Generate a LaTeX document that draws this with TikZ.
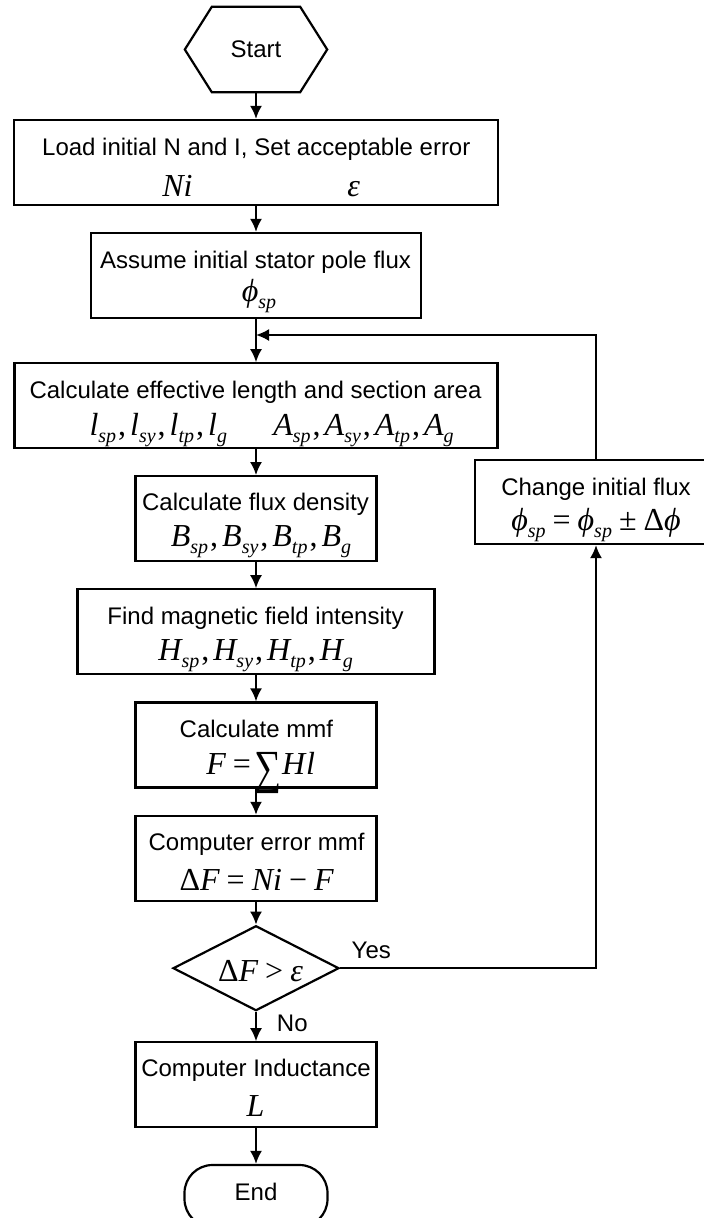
\documentclass[tikz,border=0pt]{standalone}
\usepackage{fontspec}
\usepackage{graphicx}
\setmainfont{Liberation Sans}
\newfontfamily\tms{Liberation Serif}
\usetikzlibrary{arrows.meta,shapes.geometric}

% italic subscript, lowered below the baseline
\newcommand\sbs[1]{\raisebox{-7pt}{\fontsize{20}{20}\selectfont #1}}
% upright relation sign with spacing
\newcommand\rel[1]{\hspace{7pt}{\upshape #1}\hspace{7pt}}
% list separator
\newcommand\sep{\hspace{2pt}{\upshape ,}\hspace{4pt}}

\begin{document}
\begin{tikzpicture}[x=1pt,y=-1pt,
  boxnode/.style={draw, line width=2.2pt, minimum height=85pt, inner sep=0pt},
  txt/.style={font=\fontsize{24}{28}\selectfont, anchor=base, inner sep=0pt},
  mth/.style={font=\fontsize{32}{32}\selectfont\tms\itshape, anchor=base, inner sep=0pt},
  arr/.style={line width=2pt, -{Latex[length=13pt,width=12pt]}},
  link/.style={line width=2pt}]
\useasboundingbox (0,0) rectangle (704,1218);

% ---- shapes ----
\node[minimum width=142pt, minimum height=85pt, inner sep=0pt] (start) at (256,49.5) {};
\draw[line width=2.2pt, line join=miter]
  (start.west) -- ([xshift=27pt]start.north west) -- ([xshift=-27pt]start.north east)
  -- (start.east) -- ([xshift=-27pt]start.south east) -- ([xshift=27pt]start.south west) -- cycle;

\node[boxnode, minimum width=484pt] (load)   at (256,162.5) {};
\node[boxnode, minimum width=330pt] (assume) at (256,275.5) {};
\node[boxnode, minimum width=483pt] (calc)   at (256,405.8) {};
\node[boxnode, minimum width=241pt] (flux)   at (256,518.7) {};
\node[boxnode, minimum width=357pt] (find)   at (256,631.8) {};
\node[boxnode, minimum width=241pt] (mmf)    at (256,745) {};
\node[boxnode, minimum width=241pt] (err)    at (256,858.4) {};
\node[draw, line width=2.2pt, diamond, minimum width=166pt, minimum height=85pt, inner sep=0pt] (dec) at (256,968.2) {};
\node[boxnode, minimum width=241pt] (ind)    at (256,1084.8) {};
\node[draw, line width=2.2pt, rounded corners=28pt, minimum width=143pt, minimum height=62pt, inner sep=0pt] (end) at (256,1196) {};
\node[boxnode, minimum width=242pt, minimum height=84pt] (change) at (596,502) {};

% ---- texts ----
\node[txt] (t-start)  at (256,57.5)  {Start};
\node[txt] (t-load)   at (256.3,155.7) {Load initial N and I, Set acceptable error};
\node[mth] (m-load-a) at (177.5,196.7) {Ni};
\node[mth] (m-load-b) at (353.7,196.7) {ε};

\node[txt] (t-assume) at (255.5,268.3) {Assume initial stator pole flux};
\node[mth] (m-assume) at (259,301.7) {ϕ\sbs{sp}};

\node[txt] (t-calc)   at (255.5,398.3) {Calculate effective length and section area};
\node[mth] (m-calc-a) at (158.3,435) {l\sbs{sp}\sep l\sbs{sy}\sep l\sbs{tp}\sep l\sbs{g}};
\node[mth] (m-calc-b) at (363.5,435) {A\sbs{sp}\sep A\sbs{sy}\sep A\sbs{tp}\sep A\sbs{g}};

\node[txt] (t-flux)   at (255.5,510.7) {Calculate flux density};
\node[mth] (m-flux)   at (261,546.7) {B\sbs{sp}\sep B\sbs{sy}\sep B\sbs{tp}\sep B\sbs{g}};

\node[txt] (t-find)   at (255.5,624) {Find magnetic field intensity};
\node[mth] (m-find)   at (255.7,660) {H\sbs{sp}\sep H\sbs{sy}\sep H\sbs{tp}\sep H\sbs{g}};

\node[txt] (t-mmf)    at (256.4,737.3) {Calculate mmf};
\node[mth] (m-mmf)    at (260.7,774.3) {F\rel{=}\hspace{-3pt}\raisebox{-9pt}{\scalebox{1}[1.25]{\fontsize{38}{38}\selectfont\upshape ∑}}H\hspace{1pt}l};

\node[txt] (t-err)    at (256.6,850.7) {Computer error mmf};
\node[mth] (m-err)    at (256.6,890) {{\upshape Δ}F\rel{=}Ni\rel{−}F};

\node[mth] (m-dec)    at (260.5,981.7) {{\upshape Δ}F\rel{>}ε};

\node[txt] (t-ind)    at (256,1076.7) {Computer Inductance};
\node[mth] (m-ind)    at (255.6,1116.7) {L};

\node[txt] (t-end)    at (256,1200) {End};

\node[txt] (t-change) at (596,495) {Change initial flux};
\node[mth] (m-change) at (596,530.7) {ϕ\sbs{sp}\rel{=}ϕ\sbs{sp}\rel{±}{\upshape Δ}ϕ};

\node[txt] (t-yes)    at (371.3,958.3) {Yes};
\node[txt] (t-no)     at (292.3,1031.7) {No};

% ---- connectors ----
\coordinate (join) at (256,335);
\draw[arr] (start) -- (load);
\draw[arr] (load) -- (assume);
\draw[arr] (assume) -- (calc);
\draw[arr] (calc) -- (flux);
\draw[arr] (flux) -- (find);
\draw[arr] (find) -- (mmf);
\draw[arr] (mmf) -- (err);
\draw[arr] (err) -- (dec);
\draw[arr] (dec) -- (ind);
\draw[arr] (ind) -- (end);
\draw[arr] (dec.east) -| (change.south);
\draw[arr] (change.north) |- (join);
\end{tikzpicture}
\end{document}
